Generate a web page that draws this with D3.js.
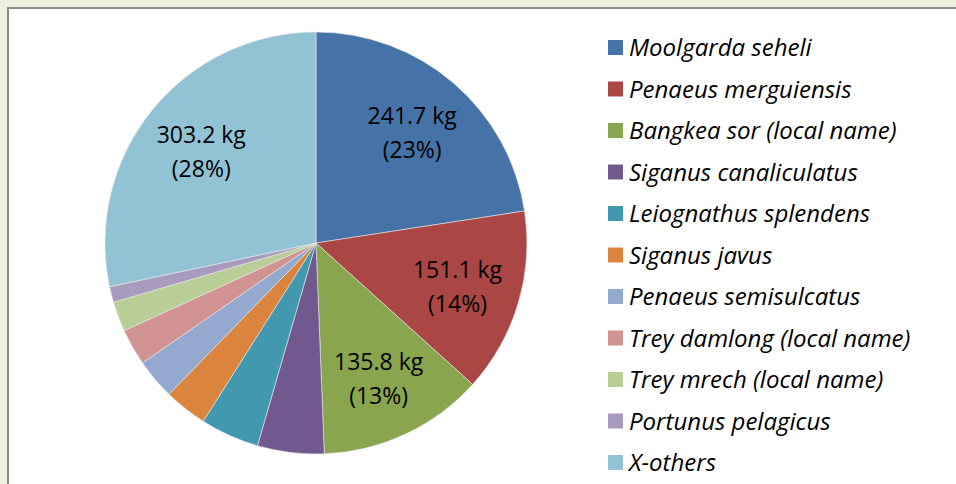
<!DOCTYPE html>
<html>
<head>
<meta charset="utf-8">
<script src="https://cdn.jsdelivr.net/npm/d3@7"></script>
<style>
  body { margin: 0; background: #ebf1de; }
  svg { display: block; }
</style>
</head>
<body>
<div id="chart"></div>
<script>
// species and catch weights (kg)
var species = [
    "Moolgarda seheli", "Penaeus merguiensis", "Bangkea sor (local name)",
    "Siganus canaliculatus", "Leiognathus splendens", "Siganus javus",
    "Penaeus semisulcatus", "Trey damlong (local name)", "Trey mrech (local name)",
    "Portunus pelagicus", "X-others"
];
var weights = [241.7, 151.1, 135.8, 54.6, 48.2, 35.3, 33.2, 30.0, 24.6, 12.9, 303.2];
// only these slices carry a label
var labelled = ["Moolgarda seheli", "Penaeus merguiensis", "Bangkea sor (local name)", "X-others"];
var sliceColors = ["#4572a7", "#aa4643", "#89a54e", "#71588f", "#4198af", "#db843d",
                   "#93a9cf", "#d19392", "#b9cd96", "#a99bbd", "#92c3d4"];

function pieChart(anchorElement, width, height)
{
    var cx = 316, cy = 243, radius = 211;

    var svg = d3.select(anchorElement).append("svg")
        .attr("width", width)
        .attr("height", height);

    // chart area with grey frame
    svg.append("rect")
        .attr("x", 8).attr("y", 8)
        .attr("width", width + 20).attr("height", height + 20)
        .style("fill", "#fff")
        .style("stroke", "#898989")
        .style("stroke-width", 2);

    var data = species.map(function(s, i) { return { name: s, value: weights[i] }; });
    var total = d3.sum(weights);

    var pie = d3.pie()
        .sort(null)
        .value(function(d) { return d.value; });

    var arc = d3.arc().innerRadius(0).outerRadius(radius);
    var labelArc = d3.arc().innerRadius(radius * 0.7).outerRadius(radius * 0.7);

    var color = d3.scaleOrdinal().domain(species).range(sliceColors);

    var g = svg.append("g").attr("transform", "translate(" + cx + "," + cy + ")");

    var arcs = pie(data);

    g.selectAll(".slice")
        .data(arcs)
      .enter().append("path")
        .attr("class", "slice")
        .attr("d", arc)
        .style("fill", function(d) { return color(d.data.name); })
        .style("stroke", "#e8e8e8")
        .style("stroke-width", 0.6);

    var lab = g.selectAll(".label")
        .data(arcs.filter(function(d) { return labelled.indexOf(d.data.name) >= 0; }))
      .enter().append("text")
        .attr("class", "label")
        .attr("transform", function(d) { return "translate(" + labelArc.centroid(d) + ")"; })
        .attr("text-anchor", "middle")
        .style("font-family", "'Open Sans', sans-serif")
        .style("font-size", "23px")
        .style("fill", "#000");

    lab.append("tspan")
        .attr("x", 0).attr("y", -7)
        .text(function(d) { return d.data.value.toFixed(1) + " kg"; });
    lab.append("tspan")
        .attr("x", 0).attr("y", 27)
        .text(function(d) { return "(" + Math.round(d.data.value / total * 100) + "%)"; });

    // legend
    var legendY = d3.scalePoint().domain(species).range([47, 462]);

    var item = svg.selectAll(".legend")
        .data(species)
      .enter().append("g")
        .attr("class", "legend")
        .attr("transform", function(d) { return "translate(608," + legendY(d) + ")"; });

    item.append("rect")
        .attr("x", 0).attr("y", -7)
        .attr("width", 15).attr("height", 15)
        .style("fill", function(d) { return color(d); });

    item.append("text")
        .attr("x", 21).attr("y", 9)
        .style("font-family", "'Open Sans', sans-serif")
        .style("font-style", "italic")
        .style("font-size", "24px")
        .style("fill", "#000")
        .text(function(d) { return d; });
}

// Starts here
pieChart('#chart', 956, 484);
</script>
</body>
</html>
